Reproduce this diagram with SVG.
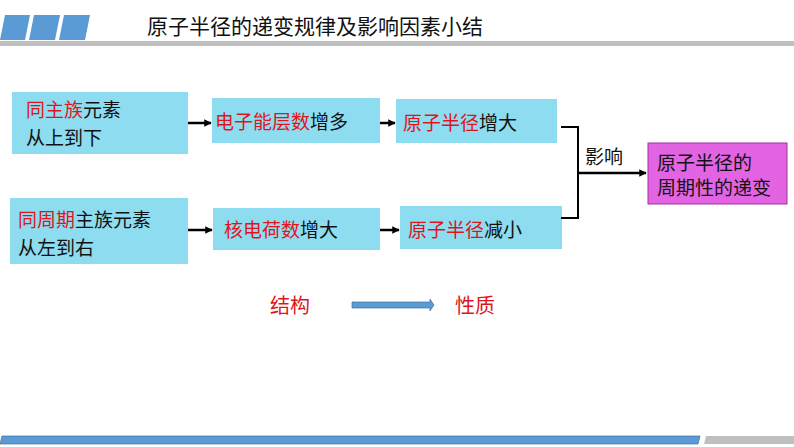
<svg xmlns="http://www.w3.org/2000/svg" width="794" height="447" viewBox="0 0 794 447">
<defs>
<style>
text{font-family:"Liberation Sans","Noto Sans CJK SC",sans-serif;font-size:19px;fill:#111}
.r{fill:#e0141c}
.b{fill:#8ddcf0}
.c{stroke:#000;stroke-width:2.5;fill:none}
</style>
<marker id="ah" viewBox="0 0 10 10" refX="9" refY="5" markerWidth="3" markerHeight="3" orient="auto"><path d="M0,0L10,5L0,10z" fill="#000"/></marker>
</defs>
<rect width="794" height="447" fill="#fff"/>
<g id="header">
<polygon points="5,15 30,15 25,40 0,40" fill="#5b9bd5"/>
<polygon points="34,15 60,15 55,40 29,40" fill="#5b9bd5"/>
<polygon points="64,15 90,15 85,40 59,40" fill="#5b9bd5"/>
<rect x="0" y="41" width="794" height="5" fill="#bfbfbf"/>
<text x="147" y="34" style="font-size:21px">原子半径的递变规律及影响因素小结</text>
</g>
<g id="n1"><rect class="b" x="12" y="92" width="176" height="62"/><text x="26" y="117"><tspan class="r">同主族</tspan>元素</text><text x="26" y="145">从上到下</text></g>
<g id="n2"><rect class="b" x="212" y="98" width="168" height="45"/><text x="215" y="129"><tspan class="r">电子能层数</tspan>增多</text></g>
<g id="n3"><rect class="b" x="396" y="99" width="161" height="44"/><text x="403" y="130"><tspan class="r">原子半径</tspan>增大</text></g>
<g id="n4"><rect class="b" x="10" y="198" width="178" height="66"/><text x="18" y="227"><tspan class="r">同周期</tspan>主族元素</text><text x="18" y="255">从左到右</text></g>
<g id="n5"><rect class="b" x="213" y="208" width="167" height="42"/><text x="224" y="237"><tspan class="r">核电荷数</tspan>增大</text></g>
<g id="n6"><rect class="b" x="400" y="206" width="162" height="43"/><text x="408" y="237"><tspan class="r">原子半径</tspan>减小</text></g>
<g id="n7"><rect x="648" y="143" width="139" height="61" fill="#e264e2" stroke="#a030a0"/><text x="657" y="170">原子半径的</text><text x="657" y="195">周期性的递变</text></g>
<g id="connectors">
<line class="c" x1="188" y1="123" x2="211" y2="123" marker-end="url(#ah)"/>
<line class="c" x1="380" y1="123" x2="395" y2="123" marker-end="url(#ah)"/>
<line class="c" x1="188" y1="230" x2="212" y2="230" marker-end="url(#ah)"/>
<line class="c" x1="380" y1="230" x2="399" y2="230" marker-end="url(#ah)"/>
<polyline class="c" points="561,127 578,127 578,218 561,218" style="stroke-width:2"/>
<line class="c" x1="578" y1="173" x2="646" y2="173" marker-end="url(#ah)"/>
<text x="585" y="164">影响</text>
</g>
<g id="bottom">
<text class="r" x="270" y="313" style="font-size:20px">结构</text>
<polygon points="352,302 430,302 430,299 434,305 430,311 430,308 352,308" fill="#5b9bd5" stroke="#41719c" stroke-width="0.7"/>
<text class="r" x="455" y="313" style="font-size:20px">性质</text>
<polygon points="2,436 700,436 698,444 0,444" fill="#5b9bd5" stroke="#41719c" stroke-width="0.7"/>
<polygon points="706,436 794,436 794,444 704,444" fill="#bfbfbf"/>
</g>
</svg>
